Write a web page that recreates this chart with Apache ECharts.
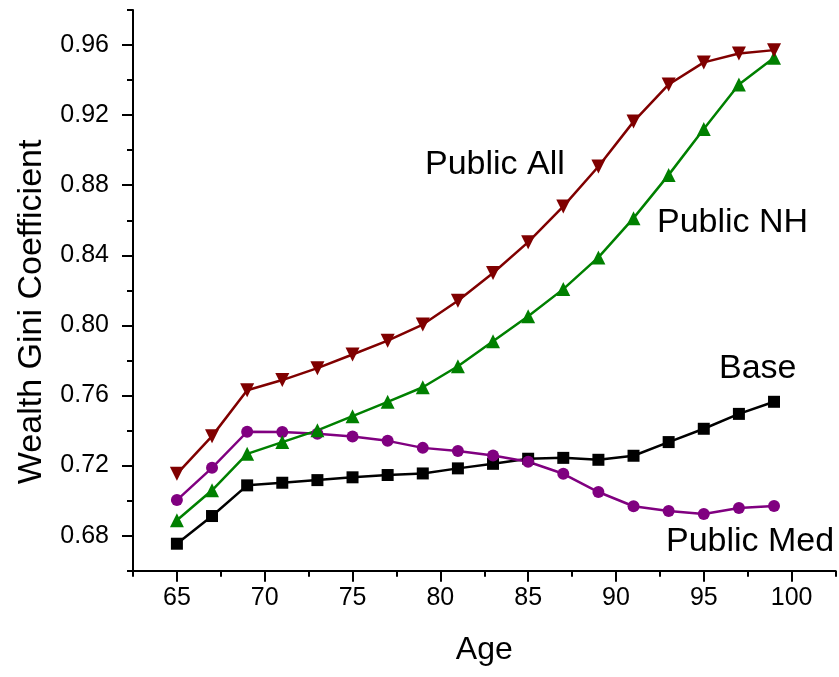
<!DOCTYPE html>
<html>
<head>
<meta charset="utf-8">
<script src="https://cdn.jsdelivr.net/npm/echarts@6/dist/echarts.min.js"></script>
<style>html,body{margin:0;padding:0;background:#fff;}#chart{width:839px;height:677px;}</style>
</head>
<body>
<div id="chart"></div>
<script>
var ages = [65,67,69,71,73,75,77,79,81,83,85,87,89,91,93,95,97,99];
var baseVals = [0.6754,0.6912,0.7087,0.7102,0.7117,0.7133,0.7146,0.7155,0.7184,0.7210,0.7239,0.7244,0.7233,0.7256,0.7334,0.7410,0.7495,0.7564];
var publicMedVals = [0.7003,0.7187,0.7393,0.7391,0.7381,0.7366,0.7341,0.7301,0.7283,0.7258,0.7222,0.7153,0.7049,0.6968,0.6941,0.6924,0.6958,0.6969];
var publicNHVals = [0.6888,0.7059,0.7267,0.7334,0.7401,0.7482,0.7564,0.7647,0.7767,0.7909,0.8052,0.8207,0.8388,0.8612,0.8859,0.9121,0.9375,0.9527];
var publicAllVals = [0.7153,0.7368,0.7630,0.7688,0.7756,0.7834,0.7913,0.8005,0.8141,0.8299,0.8475,0.8679,0.8907,0.9163,0.9375,0.9501,0.9552,0.9571];
var xMajorTicks = [65,70,75,80,85,90,95,100];
var yMajorTicks = [0.68,0.72,0.76,0.80,0.84,0.88,0.92,0.96];
var seriesNames = ['Base','Public Med','Public NH','Public All'];

var FONT = '"Liberation Sans", Arial, Helvetica, sans-serif';
function pairs(vals){ return ages.map(function(a,i){ return [a, vals[i]]; }); }

var chart = echarts.init(document.getElementById('chart'), null, {renderer:'canvas'});
var axisLineStyle = {color:'#000', width:2};
var option = {
  animation: false,
  backgroundColor: '#fff',
  grid: {left:133, right:3.5, top:10, bottom:106.3, containLabel:false, outerBoundsMode:'none'},
  xAxis: [{
    type:'value', min:62.5, max:102.5, interval:2.5,
    axisLine:{show:true, lineStyle:axisLineStyle, onZero:false},
    axisTick:{show:true, inside:false, length:6, lineStyle:{color:'#000', width:2}},
    splitLine:{show:false},
    axisLabel:{show:true, margin:15, fontFamily:FONT, fontSize:25, color:'#000',
      formatter:function(v){ return (Math.abs(v % 5) < 1e-6) ? String(v) : ''; }},
    name:'Age', nameLocation:'middle', nameGap:63,
    nameTextStyle:{fontFamily:FONT, fontSize:32, color:'#000'}
  },{
    type:'value', min:62.5, max:102.5, position:'bottom',
    axisLine:{show:false, onZero:false},
    axisTick:{show:true, inside:false, length:11, customValues:xMajorTicks, lineStyle:{color:'#000', width:2}},
    axisLabel:{show:false},
    splitLine:{show:false}
  }],
  yAxis: [{
    type:'value', min:0.66, max:0.98, interval:0.02,
    axisLine:{show:true, lineStyle:axisLineStyle, onZero:false},
    axisTick:{show:true, inside:false, length:6, lineStyle:{color:'#000', width:2}},
    splitLine:{show:false},
    axisLabel:{show:true, margin:24, fontFamily:FONT, fontSize:25, color:'#000',
      formatter:function(v){ var k=Math.round(v*100); return (k % 4 === 0) ? v.toFixed(2) : ''; }},
    name:'Wealth Gini Coefficient', nameLocation:'middle', nameGap:84,
    nameTextStyle:{fontFamily:FONT, fontSize:34, color:'#000', padding:[0,43,0,0]}
  },{
    type:'value', min:0.66, max:0.98, position:'left',
    axisLine:{show:false, onZero:false},
    axisTick:{show:true, inside:false, length:11, customValues:yMajorTicks, lineStyle:{color:'#000', width:2}},
    axisLabel:{show:false},
    splitLine:{show:false}
  }],
  series: [
    {name:seriesNames[0], type:'line', data:pairs(baseVals), symbol:'rect', symbolSize:12,
     lineStyle:{color:'#000000', width:2.5}, itemStyle:{color:'#000000'}},
    {name:seriesNames[1], type:'line', data:pairs(publicMedVals), symbol:'circle', symbolSize:12,
     lineStyle:{color:'#800080', width:2.5}, itemStyle:{color:'#800080'}},
    {name:seriesNames[2], type:'line', data:pairs(publicNHVals), symbol:'triangle', symbolSize:14,
     lineStyle:{color:'#008000', width:2.5}, itemStyle:{color:'#008000'}},
    {name:seriesNames[3], type:'line', data:pairs(publicAllVals), symbol:'triangle', symbolSize:14, symbolRotate:180,
     lineStyle:{color:'#800000', width:2.5}, itemStyle:{color:'#800000'}}
  ],
  graphic: [
    {type:'text', left:425, top:148, style:{text:'Public All', font:'34px ' + FONT, fill:'#000'}},
    {type:'text', left:657, top:206, style:{text:'Public NH', font:'34px ' + FONT, fill:'#000'}},
    {type:'text', left:719, top:352, style:{text:'Base', font:'34px ' + FONT, fill:'#000'}},
    {type:'text', left:666, top:525, style:{text:'Public Med', font:'34px ' + FONT, fill:'#000'}}
  ]
};
chart.setOption(option);
</script>
</body>
</html>
